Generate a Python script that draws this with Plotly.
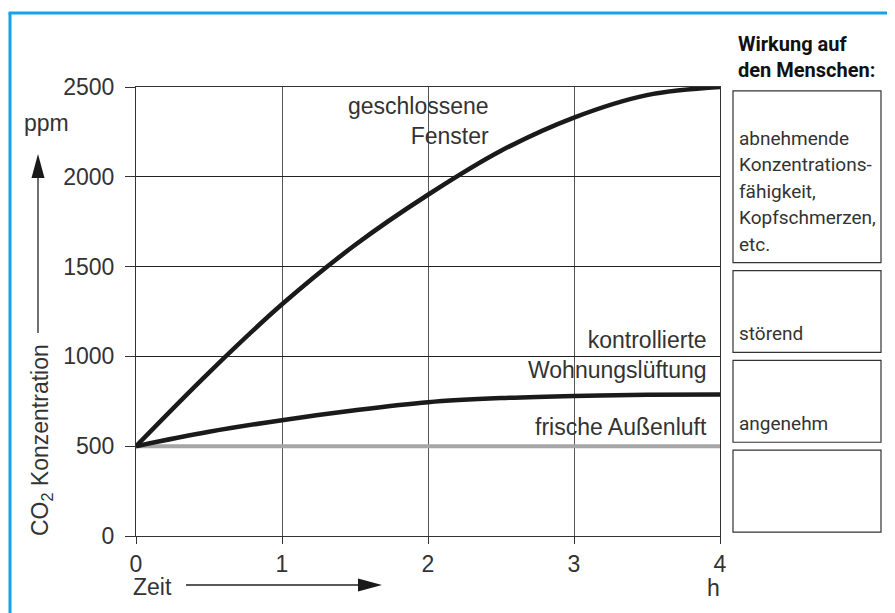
import plotly.graph_objects as go

# ---- data ----
time_h = [0, 0.5, 1, 1.5, 2, 2.5, 3, 3.5, 4]
closed_windows = [500, 910, 1290, 1620, 1900, 2145, 2330, 2455, 2500]
controlled_vent = [500, 580, 645, 700, 745, 768, 780, 786, 788]
fresh_air = [500, 500, 500, 500, 500, 500, 500, 500, 500]

x_ticks = [0, 1, 2, 3, 4]
y_ticks = [0, 500, 1000, 1500, 2000, 2500]

effect_bands = [(1500, 2500), (1000, 1500), (500, 1000), (0, 500)]
effect_lines_top = ["abnehmende", "Konzentrations-", "fähigkeit,", "Kopfschmerzen,", "etc."]
effect_labels = ["störend", "angenehm"]

# ---- layout helpers (reference-pixel -> paper) ----
OFF = 8                     # page body margin of the browser
W, H = 895 - OFF, 613 - OFF
PL, PR, PT, PB = 136, 720, 87, 536   # plot area in window pixels


def px(x):
    return (x - PL) / (PR - PL)


def py(y):
    return (PB - y) / (PB - PT)


TXT = "#333333"
FONT = "Liberation Sans, Arial, sans-serif"
CFONT = "Roboto, Liberation Sans, sans-serif"
FS = 23

fig = go.Figure()
fig.add_trace(go.Scatter(x=time_h, y=fresh_air, mode="lines",
                         line=dict(color="#a6a6a6", width=4), hoverinfo="skip"))
fig.add_trace(go.Scatter(x=time_h, y=controlled_vent, mode="lines",
                         line=dict(color="#1a1a1a", width=4.5, shape="spline", smoothing=1.0), hoverinfo="skip"))
fig.add_trace(go.Scatter(x=time_h, y=closed_windows, mode="lines",
                         line=dict(color="#1a1a1a", width=4.5, shape="spline", smoothing=1.0), hoverinfo="skip"))

shapes = []
annotations = []

# blue frame (top and left)
blue = "#17a2e6"
shapes.append(dict(type="line", xref="paper", yref="paper", x0=px(10), y0=py(640), x1=px(10), y1=py(13),
                   line=dict(color=blue, width=3)))
shapes.append(dict(type="line", xref="paper", yref="paper", x0=px(8.5), y0=py(13), x1=px(920), y1=py(13),
                   line=dict(color=blue, width=3)))

# effect boxes
gap = 22
for lo, hi in effect_bands:
    shapes.append(dict(type="rect", xref="paper", yref="y", x0=px(733), x1=px(881),
                       y0=lo + gap, y1=hi - gap, line=dict(color="#333333", width=1.2)))

for i, line in enumerate(effect_lines_top):
    annotations.append(dict(xref="paper", yref="paper", x=px(737), y=py(138 + 26.5 * i),
                            xanchor="left", yanchor="middle", align="left", showarrow=False, text=line,
                            font=dict(family=CFONT, size=19, color=TXT)))
annotations.append(dict(xref="paper", yref="paper", x=px(737), y=py(333), xanchor="left", yanchor="middle",
                        align="left", showarrow=False, text=effect_labels[0],
                        font=dict(family=CFONT, size=19, color=TXT)))
annotations.append(dict(xref="paper", yref="paper", x=px(737), y=py(423), xanchor="left", yanchor="middle",
                        align="left", showarrow=False, text=effect_labels[1],
                        font=dict(family=CFONT, size=19, color=TXT)))
annotations.append(dict(xref="paper", yref="paper", x=px(736), y=py(57), xanchor="left", yanchor="middle",
                        align="left", showarrow=False, text="<b>Wirkung auf<br>den Menschen:</b>",
                        font=dict(family=CFONT, size=20, color="#111111")))

# curve labels
annotations.append(dict(xref="paper", yref="paper", x=px(491), y=py(121), xanchor="right", yanchor="middle",
                        align="right", showarrow=False, text="geschlossene<br>Fenster",
                        font=dict(family=FONT, size=FS, color=TXT)))
annotations.append(dict(xref="paper", yref="paper", x=px(709), y=py(355), xanchor="right", yanchor="middle",
                        align="right", showarrow=False, text="kontrollierte<br>Wohnungslüftung",
                        font=dict(family=FONT, size=FS, color=TXT)))
annotations.append(dict(xref="paper", yref="paper", x=px(709), y=py(427), xanchor="right", yanchor="middle",
                        align="right", showarrow=False, text="frische Außenluft",
                        font=dict(family=FONT, size=FS, color=TXT)))

# y axis title with arrow
annotations.append(dict(xref="paper", yref="paper", x=px(41), y=py(440), xanchor="center", yanchor="middle",
                        textangle=-90, showarrow=False, text="CO<sub>2</sub> Konzentration",
                        font=dict(family=FONT, size=FS, color=TXT)))
shapes.append(dict(type="line", xref="paper", yref="paper", x0=px(38), y0=py(333), x1=px(38), y1=py(176),
                   line=dict(color="#222222", width=1.3)))
shapes.append(dict(type="path", xref="paper", yref="paper",
                   path=f"M {px(38)} {py(154)} L {px(44.5)} {py(178)} L {px(31.5)} {py(178)} Z",
                   fillcolor="#1a1a1a", line=dict(width=0)))
annotations.append(dict(xref="paper", yref="paper", x=px(22), y=py(123), xanchor="left", yanchor="middle",
                        showarrow=False, text="ppm", font=dict(family=FONT, size=FS, color=TXT)))

# x axis title with arrow
annotations.append(dict(xref="paper", yref="paper", x=px(131), y=py(587), xanchor="left", yanchor="middle",
                        showarrow=False, text="Zeit", font=dict(family=FONT, size=FS, color=TXT)))
shapes.append(dict(type="line", xref="paper", yref="paper", x0=px(186), y0=py(585), x1=px(362), y1=py(585),
                   line=dict(color="#222222", width=1.3)))
shapes.append(dict(type="path", xref="paper", yref="paper",
                   path=f"M {px(382)} {py(585)} L {px(358)} {py(578.5)} L {px(358)} {py(591.5)} Z",
                   fillcolor="#1a1a1a", line=dict(width=0)))
annotations.append(dict(xref="paper", yref="paper", x=px(713), y=py(588), xanchor="center", yanchor="middle",
                        showarrow=False, text="h", font=dict(family=FONT, size=FS, color=TXT)))

fig.update_layout(
    width=W, height=H, autosize=False,
    margin=dict(l=PL - OFF, r=W - (PR - OFF), t=PT - OFF, b=H - (PB - OFF)),
    paper_bgcolor="white", plot_bgcolor="white",
    showlegend=False,
    shapes=shapes, annotations=annotations,
    font=dict(family=FONT, size=FS, color=TXT),
)
fig.update_xaxes(range=[0, 4], tickvals=x_ticks, ticktext=[str(v) for v in x_ticks],
                 showgrid=True, gridcolor="#555555", gridwidth=1,
                 showline=True, mirror=True, linecolor="#333333", linewidth=1,
                 ticks="outside", ticklen=7, tickcolor="#333333", zeroline=False,
                 tickfont=dict(family=FONT, size=FS, color=TXT), fixedrange=True)
fig.update_yaxes(range=[0, 2500], tickvals=y_ticks, ticktext=[str(v) for v in y_ticks],
                 showgrid=True, gridcolor="#222222", gridwidth=1,
                 showline=True, mirror=True, linecolor="#333333", linewidth=1,
                 ticks="outside", ticklen=10, tickcolor="#333333", zeroline=False,
                 ticklabelstandoff=6,
                 tickfont=dict(family=FONT, size=FS, color=TXT), fixedrange=True)

fig.write_html("out.html")
